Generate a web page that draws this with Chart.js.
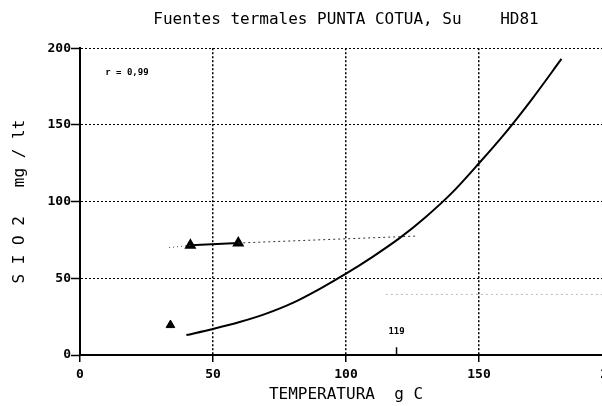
<!DOCTYPE html>
<html>
<head>
<meta charset="utf-8">
<script src="https://cdn.jsdelivr.net/npm/chart.js@4"></script>
<style>
  html, body { margin: 0; padding: 0; background: #fff; overflow: hidden; }
  #wrap { width: 640px; height: 406px; }
</style>
</head>
<body>
<div id="wrap"><canvas id="chart" width="640" height="406"></canvas></div>
<script>
// silica vs temperature
const curveT  = [40, 50, 60, 70, 80, 90, 100, 110, 120, 130, 140, 150, 160, 170, 181];
const curveSi = [13, 17, 21.5, 27, 34, 43, 53, 64, 76, 90, 106, 125, 145, 167, 193];
const upperT  = [41.5, 59.5];
const upperSi = [71.5, 73];
const trendT  = [59.5, 126];
const trendSi = [73, 77.5];
const leadT   = [33.5, 41.5];
const leadSi  = [70, 71.5];
const lowT    = [34];
const lowSi   = [19.5];
const faintT  = [115, 200];
const faintSi = [39.5, 39.5];
const markT   = [119, 119];
const markSi  = [0, 5];
const xTickMin = 0, xTickMax = 200, xStep = 50;
const yTickMin = 0, yTickMax = 200, yStep = 50;
const rLabel = 'r = 0,99';
const markLabel = '119';

const pts = (xs, ys) => xs.map((x, i) => ({ x: x, y: ys[i] }));
const mono = "'DejaVu Sans Mono', monospace";

const notes = {
  id: 'notes',
  afterDatasetsDraw(chart) {
    const { ctx, scales: { x, y } } = chart;
    ctx.save();
    ctx.fillStyle = '#000';
    ctx.font = 'bold 9px ' + mono;
    ctx.textAlign = 'left';
    ctx.textBaseline = 'middle';
    ctx.fillText(rLabel, x.getPixelForValue(9.5), y.getPixelForValue(184));
    ctx.textAlign = 'center';
    ctx.fillText(markLabel, x.getPixelForValue(119), y.getPixelForValue(15));
    ctx.restore();
  }
};

new Chart(document.getElementById('chart'), {
  type: 'scatter',
  data: {
    datasets: [
      { data: pts(faintT, faintSi), showLine: true, borderColor: '#bbb', borderWidth: 1, borderDash: [2, 3], pointRadius: 0 },
      { data: pts(leadT, leadSi), showLine: true, borderColor: '#444', borderWidth: 1, borderDash: [1, 3], pointRadius: 0 },
      { data: pts(trendT, trendSi), showLine: true, borderColor: '#333', borderWidth: 1, borderDash: [2, 3], pointRadius: 0 },
      { data: pts(curveT, curveSi), showLine: true, borderColor: '#000', borderWidth: 2, tension: 0.3, pointRadius: 0 },
      { data: pts(upperT, upperSi), showLine: true, borderColor: '#000', borderWidth: 2, pointStyle: 'triangle', pointRadius: 5, backgroundColor: '#000' },
      { data: pts(lowT, lowSi), pointStyle: 'triangle', pointRadius: 5, backgroundColor: '#000', borderColor: '#000' },
      { data: pts(markT, markSi), showLine: true, borderColor: '#000', borderWidth: 1.5, pointRadius: 0 }
    ]
  },
  options: {
    responsive: false,
    animation: false,
    layout: { padding: { left: 0, top: 0, right: 28, bottom: 0 } },
    scales: {
      x: {
        type: 'linear', min: xTickMin, max: xTickMax,
        afterFit: s => { s.height = 51; },
        ticks: { stepSize: xStep, color: '#000', font: { family: mono, size: 13, weight: 'bold' }, padding: 5, maxRotation: 0 },
        grid: { color: '#000', lineWidth: 1.5, tickLength: 7, tickBorderDash: [], tickWidth: 1.5 },
        border: { display: true, color: '#000', width: 2, dash: [2, 2] },
        title: { display: true, text: 'TEMPERATURA  g C', color: '#000', font: { family: mono, size: 16 }, padding: { top: 0, bottom: 2 } }
      },
      y: {
        type: 'linear', min: yTickMin, max: yTickMax,
        afterFit: s => { s.width = 80; },
        ticks: { stepSize: yStep, color: '#000', font: { family: mono, size: 13, weight: 'bold' }, padding: 0 },
        grid: { color: '#000', lineWidth: 1, tickLength: 9, tickBorderDash: [], tickWidth: 1.5 },
        border: { display: true, color: '#000', width: 2, dash: [2, 2] },
        title: { display: true, text: 'S I O 2   mg / lt', color: '#000', font: { family: mono, size: 16 }, padding: { top: 10, bottom: 0 } }
      }
    },
    plugins: {
      legend: { display: false },
      tooltip: { enabled: false },
      title: {
        display: true, fullSize: false,
        text: 'Fuentes termales PUNTA COTUA, Su    HD81',
        color: '#000', font: { family: mono, size: 16, weight: 'normal' },
        padding: { top: 10, bottom: 19 }
      }
    }
  },
  plugins: [notes]
});
</script>
</body>
</html>
